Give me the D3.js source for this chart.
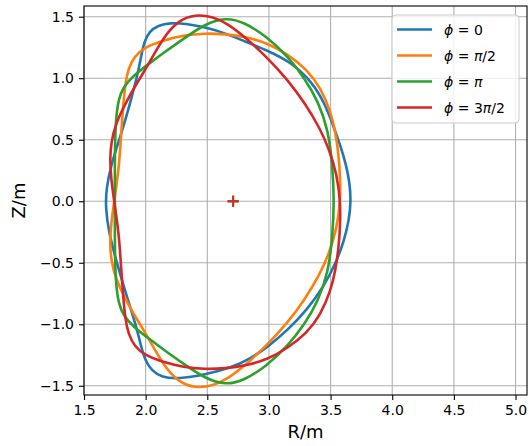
<!DOCTYPE html>
<html>
<head>
<meta charset="utf-8">
<script src="https://cdn.jsdelivr.net/npm/d3@7"></script>
<style>
  html, body { margin: 0; padding: 0; background: #fff; }
  svg { display: block; font-family: "DejaVu Sans", sans-serif; }
</style>
</head>
<body>
<svg id="chart"></svg>
<script>
// Cross sections (R, Z) in metres
const phi0 = [
  [3.665, 0.00], [3.655, 0.15], [3.625, 0.30], [3.58, 0.45], [3.52, 0.62], [3.45, 0.80],
  [3.35, 0.97], [3.18, 1.13], [2.99, 1.225], [2.80, 1.30], [2.65, 1.365], [2.48, 1.415],
  [2.32, 1.445], [2.20, 1.45], [2.10, 1.43], [2.03, 1.38], [1.99, 1.30], [1.965, 1.19],
  [1.94, 1.05], [1.87, 0.78], [1.80, 0.54], [1.72, 0.30], [1.68, 0.10], [1.675, -0.05],
  [1.70, -0.25], [1.76, -0.48], [1.84, -0.75], [1.925, -1.02], [1.965, -1.19], [1.995, -1.29],
  [2.05, -1.38], [2.13, -1.43], [2.26, -1.445], [2.48, -1.41], [2.70, -1.35], [2.84, -1.285],
  [2.99, -1.185], [3.16, -1.04], [3.31, -0.88], [3.44, -0.70], [3.54, -0.51], [3.61, -0.32],
  [3.65, -0.15]
];
const phiHalfPi = [
  [3.58, 0.00], [3.578, 0.20], [3.565, 0.38], [3.54, 0.56], [3.50, 0.73], [3.42, 0.92],
  [3.31, 1.07], [3.15, 1.195], [2.99, 1.285], [2.82, 1.335], [2.64, 1.36], [2.48, 1.365],
  [2.31, 1.35], [2.13, 1.305], [1.99, 1.25], [1.91, 1.18], [1.86, 1.08], [1.835, 0.96],
  [1.818, 0.78], [1.80, 0.53], [1.785, 0.28], [1.745, 0.00], [1.72, -0.18], [1.71, -0.34],
  [1.72, -0.48], [1.76, -0.64], [1.84, -0.80], [1.91, -0.93], [1.98, -1.04], [2.07, -1.20],
  [2.165, -1.36], [2.27, -1.47], [2.40, -1.52], [2.55, -1.50], [2.67, -1.44], [2.81, -1.33],
  [2.98, -1.175], [3.15, -0.99], [3.29, -0.80], [3.41, -0.60], [3.49, -0.42], [3.55, -0.22]
];
const phiPi = [
  [3.53, 0.00], [3.515, 0.30], [3.48, 0.58], [3.40, 0.81], [3.29, 1.00], [3.15, 1.18],
  [2.98, 1.34], [2.80, 1.455], [2.65, 1.495], [2.48, 1.44], [2.32, 1.33], [2.15, 1.21],
  [2.03, 1.12], [1.90, 1.02], [1.82, 0.93], [1.78, 0.83], [1.76, 0.68], [1.752, 0.50],
  [1.75, 0.25], [1.75, 0.00], [1.75, -0.25], [1.752, -0.50], [1.76, -0.68], [1.78, -0.83],
  [1.82, -0.93], [1.90, -1.02], [2.03, -1.12], [2.15, -1.21], [2.32, -1.33], [2.48, -1.44],
  [2.65, -1.495], [2.80, -1.455], [2.98, -1.34], [3.15, -1.18], [3.29, -1.00], [3.40, -0.81],
  [3.48, -0.58], [3.515, -0.30]
];
const phi3HalfPi = [
  [3.58, 0.00], [3.578, -0.20], [3.565, -0.38], [3.54, -0.56], [3.50, -0.73], [3.42, -0.92],
  [3.31, -1.07], [3.15, -1.195], [2.99, -1.285], [2.82, -1.335], [2.64, -1.36], [2.48, -1.365],
  [2.31, -1.35], [2.13, -1.305], [1.99, -1.25], [1.91, -1.18], [1.86, -1.08], [1.835, -0.96],
  [1.818, -0.78], [1.80, -0.53], [1.785, -0.28], [1.745, 0.00], [1.72, 0.18], [1.71, 0.34],
  [1.72, 0.48], [1.76, 0.64], [1.84, 0.80], [1.91, 0.93], [1.98, 1.04], [2.07, 1.20],
  [2.165, 1.36], [2.27, 1.47], [2.40, 1.52], [2.55, 1.50], [2.67, 1.44], [2.81, 1.33],
  [2.98, 1.175], [3.15, 0.99], [3.29, 0.80], [3.41, 0.60], [3.49, 0.42], [3.55, 0.22]
];

// magnetic axis position for each angle
const axisR = [2.71, 2.71, 2.71, 2.71];
const axisZ = [0, 0, 0, 0];

const labels = ['ϕ = 0', 'ϕ = π/2', 'ϕ = π', 'ϕ = 3π/2'];
const colors = ['#1f77b4', '#ff7f0e', '#2ca02c', '#d62728'];
const xTicks = [1.5, 2.0, 2.5, 3.0, 3.5, 4.0, 4.5, 5.0];
const yTicks = [-1.5, -1.0, -0.5, 0.0, 0.5, 1.0, 1.5];

const sections = [phi0, phiHalfPi, phiPi, phi3HalfPi];

const W = 529, H = 446;
const margin = { top: 6, right: 2, bottom: 51, left: 84 };
const width = W - margin.left - margin.right;
const height = H - margin.top - margin.bottom;

const svg = d3.select('#chart')
  .attr('width', W)
  .attr('height', H);

const g = svg.append('g')
  .attr('transform', `translate(${margin.left},${margin.top})`);

// equal aspect axes
const xScale = d3.scaleLinear().domain([1.5, 5.093]).range([0, width]);
const yScale = d3.scaleLinear().domain([-1.575, 1.587]).range([height, 0]);

// Grid
g.append('g')
  .selectAll('line')
  .data(xTicks)
  .join('line')
  .attr('x1', d => xScale(d)).attr('x2', d => xScale(d))
  .attr('y1', 0).attr('y2', height)
  .attr('stroke', '#b0b0b0')
  .attr('stroke-width', 1.1);

g.append('g')
  .selectAll('line')
  .data(yTicks)
  .join('line')
  .attr('y1', d => yScale(d)).attr('y2', d => yScale(d))
  .attr('x1', 0).attr('x2', width)
  .attr('stroke', '#b0b0b0')
  .attr('stroke-width', 1.1);

// Sections
const line = d3.line()
  .x(d => xScale(d[0]))
  .y(d => yScale(d[1]))
  .curve(d3.curveBasisClosed);

g.append('g')
  .selectAll('path')
  .data(sections)
  .join('path')
  .attr('fill', 'none')
  .attr('stroke', (d, i) => colors[i])
  .attr('stroke-width', 2.6)
  .attr('stroke-linejoin', 'round')
  .attr('d', line);

// Axis markers
axisR.forEach((r, i) => {
  const cx = xScale(r), cy = yScale(axisZ[i]);
  g.append('path')
    .attr('d', `M${cx - 5.5},${cy}H${cx + 5.5}M${cx},${cy - 5.5}V${cy + 5.5}`)
    .attr('stroke', colors[i])
    .attr('stroke-width', 1.8)
    .attr('fill', 'none');
});

// Axes
const fmt = d3.format('.1f');
const xAxis = g.append('g')
  .attr('transform', `translate(0,${height})`)
  .call(d3.axisBottom(xScale).tickValues(xTicks).tickFormat(fmt).tickSize(5).tickPadding(5));
const yAxis = g.append('g')
  .call(d3.axisLeft(yScale).tickValues(yTicks).tickFormat(fmt).tickSize(5).tickPadding(5));

[xAxis, yAxis].forEach(ax => {
  ax.select('.domain').remove();
  ax.selectAll('line').attr('stroke', '#000').attr('stroke-width', 1.1);
  ax.selectAll('text')
    .style('font-family', '"DejaVu Sans", sans-serif')
    .style('font-size', '14px')
    .attr('fill', '#000');
});

// Frame
g.append('rect')
  .attr('width', width)
  .attr('height', height)
  .attr('fill', 'none')
  .attr('stroke', '#000')
  .attr('stroke-width', 1.1);

// Axis labels
svg.append('text')
  .attr('x', margin.left + width / 2)
  .attr('y', 438)
  .attr('text-anchor', 'middle')
  .style('font-size', '18px')
  .text('R/m');

svg.append('text')
  .attr('transform', `translate(25,${margin.top + height / 2}) rotate(-90)`)
  .attr('text-anchor', 'middle')
  .style('font-size', '18px')
  .text('Z/m');

// Legend
const legend = svg.append('g').attr('transform', 'translate(392,15)');
legend.append('rect')
  .attr('width', 127)
  .attr('height', 108)
  .attr('rx', 4)
  .attr('fill', 'rgba(255,255,255,0.8)')
  .attr('stroke', '#cccccc')
  .attr('stroke-width', 1);

labels.forEach((lab, i) => {
  const y = 14.5 + i * 26;
  legend.append('line')
    .attr('x1', 5).attr('x2', 40)
    .attr('y1', y).attr('y2', y)
    .attr('stroke', colors[i])
    .attr('stroke-width', 2.6);
  const t = legend.append('text')
    .attr('x', 52)
    .attr('y', y + 5)
    .style('font-size', '14px');
  // greek letters italic, like mathtext
  lab.split(/([ϕπ])/).filter(s => s.length).forEach(s => {
    t.append('tspan')
      .style('font-style', /[ϕπ]/.test(s) ? 'italic' : 'normal')
      .text(s);
  });
});
</script>
</body>
</html>
